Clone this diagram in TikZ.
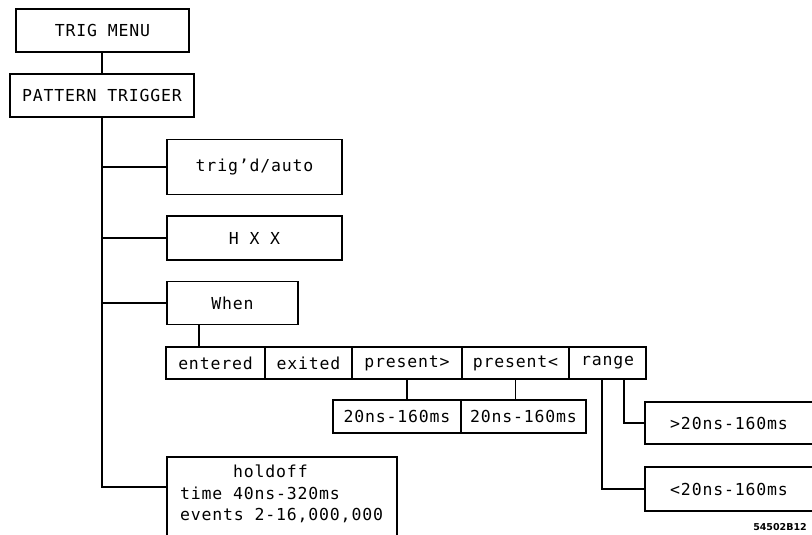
\documentclass[tikz,border=0pt]{standalone}
\usepackage{fontspec}
\newfontfamily\plotfont[LetterSpace=5]{DejaVu Sans Mono}
\newfontfamily\labfont{DejaVu Sans}
\begin{document}
\begin{tikzpicture}[x=1pt,y=-1pt,
  every node/.style={inner sep=0pt, font=\plotfont\fontsize{16.5}{21.5}\selectfont},
  box/.style={draw, line width=1.6pt, rectangle},
  wire/.style={line width=1.6pt}]
\useasboundingbox (0,0) rectangle (812,535);
\clip (0,0) rectangle (812,535);
% main boxes
\node[box, minimum width=173pt, minimum height=43pt] (trig) at (102.5,30.5) {TRIG MENU};
\node[box, minimum width=184pt, minimum height=43pt] (pat) at (102,95.5) {PATTERN TRIGGER};
\node[box, minimum width=175pt, minimum height=55pt] (tda) at (254.5,167) {trig’d/auto};
\node[box, minimum width=175pt, minimum height=44pt] (hxx) at (254.5,238) {H X X};
\node[box, minimum width=131pt, minimum height=43pt] (when) at (232.5,303) {When};
% row of choices
\node[box, minimum width=99pt, minimum height=32pt] (ent) at (215.5,363) {entered};
\node[box, minimum width=87pt, minimum height=32pt] (exi) at (308.5,363) {exited};
\node[box, minimum width=110pt, minimum height=32pt] (pg) at (407,363) {present>};
\node[box, minimum width=107pt, minimum height=32pt] (pl) at (515.5,363) {present<};
\node[box, minimum width=77pt, minimum height=32pt] (rng) at (607.5,363) {range};
% duration boxes
\node[box, minimum width=128pt, minimum height=33pt] (b1) at (397,416.5) {20ns-160ms};
\node[box, minimum width=125pt, minimum height=33pt] (b2) at (523.5,416.5) {20ns-160ms};
\node[box, minimum width=168pt, minimum height=42pt] (gt) at (729,423) {>20ns-160ms};
\node[box, minimum width=168pt, minimum height=44pt] (lt) at (729,489) {<20ns-160ms};
% holdoff
\node[box, minimum width=230pt, minimum height=84pt, anchor=north west] (hold) at (166,456) {};
\node[anchor=base west] (h1) at (233,477) {holdoff};
\node[anchor=base west] (h2) at (180,499) {time 40ns-320ms};
\node[anchor=base west] (h3) at (180,520) {events 2-16,000,000};
% label
\node[font=\labfont\bfseries\fontsize{9.5}{11}\selectfont] (lbl) at (780,527) {54502B12};
% connectors
\coordinate (hj) at (166,487);
\coordinate (wx) at (199,0);
\coordinate (r1) at (602,379);
\coordinate (r2) at (624,379);
\draw[wire] (trig.south) -- (pat.south |- trig.south) -- (pat.north);
\draw[wire] (pat.south) |- (hj);
\draw[wire] (pat.south |- tda.west) -- (tda.west);
\draw[wire] (pat.south |- hxx.west) -- (hxx.west);
\draw[wire] (pat.south |- when.west) -- (when.west);
\draw[wire] (when.south -| wx) -- (ent.north -| wx);
\draw[wire] (pg.south) -- (b1.north -| pg.south);
\draw[wire] (pl.south) -- (b2.north -| pl.south);
\draw[wire] (r1) |- (lt.west);
\draw[wire] (r2) |- (gt.west);
\end{tikzpicture}
\end{document}
